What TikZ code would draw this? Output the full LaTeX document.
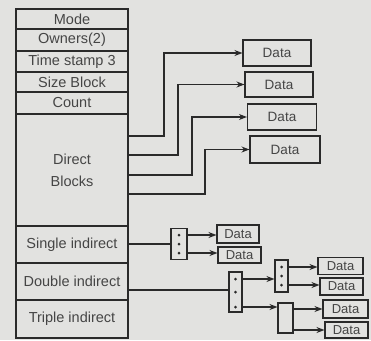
\documentclass[tikz,border=0pt]{standalone}
\usepackage{fontspec}
\setmainfont{Liberation Sans}
\usetikzlibrary{arrows.meta}
\definecolor{ink}{HTML}{2A2A2A}
\definecolor{txt}{HTML}{454545}
\definecolor{paper}{HTML}{E2E2E0}
\begin{document}
\begin{tikzpicture}[x=1pt,y=-1pt,
  cell/.style={draw=ink, line width=1.1pt, minimum width=112pt, inner sep=0pt, text=txt, font=\fontsize{14.5}{17}\selectfont},
  databox/.style={draw=ink, line width=1.1pt, inner sep=0pt, text=txt, font=\fontsize{13.5}{15}\selectfont},
  smallbox/.style={databox, font=\fontsize{13}{15}\selectfont},
  idx/.style={draw=ink, line width=1.1pt, inner sep=0pt},
  dot/.style={circle, fill=ink, inner sep=0pt, minimum size=3pt},
  arr/.style={draw=ink, line width=1.1pt, -{Stealth[length=8pt,width=6pt]}},
  wire/.style={draw=ink, line width=1.1pt}]
\useasboundingbox[fill=paper] (0,0) rectangle (371,340);
% inode column
\node[cell, minimum height=20pt] (mode) at (72,19) {Mode};
\node[cell, minimum height=22pt] (owners) at (72,40) {Owners(2)};
\node[cell, minimum height=21pt] (time) at (72,61.5) {Time stamp 3};
\node[cell, minimum height=20pt] (size) at (72,82) {Size Block};
\node[cell, minimum height=22pt] (count) at (72,103) {Count};
\node[cell, minimum height=112pt, align=center] (direct) at (72,170) {Direct\\[5pt]Blocks};
\node[cell, minimum height=37pt] (single) at (72,244.5) {Single indirect};
\node[cell, minimum height=37pt] (double) at (72,281.5) {Double indirect};
\node[cell, minimum height=38pt] (triple) at (72,319) {Triple indirect};
% direct data blocks
\node[databox, minimum width=68pt, minimum height=26pt] (d1) at (277,53) {Data};
\node[databox, minimum width=68pt, minimum height=25pt] (d2) at (279,84.5) {Data};
\node[databox, minimum width=69pt, minimum height=26pt] (d3) at (282,117) {Data};
\node[databox, minimum width=70pt, minimum height=27pt] (d4) at (285,149.5) {Data};
\draw[arr] (direct.east |- 0,136) -- (164,136) |- (d1.west);
\draw[arr] (direct.east |- 0,155) -- (178,155) |- (d2.west);
\draw[arr] (direct.east |- 0,175) -- (192,175) |- (d3.west);
\draw[arr] (direct.east |- 0,194) -- (205,194) |- (d4.west);
% single indirect
\node[idx, minimum width=16pt, minimum height=31pt] (ib1) at (179,244) {};
\node[dot] (a1) at (179,235) {};
\node[dot] (a2) at (179,244) {};
\node[dot] (a3) at (179,253) {};
\node[smallbox, minimum width=42pt, minimum height=18pt] (e1) at (238,234) {Data};
\node[smallbox, minimum width=43pt, minimum height=16pt] (e2) at (239.5,255) {Data};
\draw[wire] (single.east |- ib1.west) -- (ib1.west);
\draw[arr] (ib1.east |- a1) -- (e1.west |- a1);
\draw[arr] (ib1.east |- a3) -- (e2.west |- a3);
% double indirect
\node[idx, minimum width=13pt, minimum height=40pt] (ib2) at (235.5,292) {};
\node[dot] (b1) at (235.5,279) {};
\node[dot] (b2) at (235.5,292) {};
\node[dot] (b3) at (235.5,307) {};
\node[idx, minimum width=13pt, minimum height=32pt] (ib3) at (281.5,276) {};
\node[dot] (c1) at (281.5,267) {};
\node[dot] (c2) at (281.5,276) {};
\node[dot] (c3) at (281.5,285) {};
\node[idx, minimum width=15pt, minimum height=30pt] (ib4) at (285.5,318) {};
\node[smallbox, minimum width=45pt, minimum height=17pt] (f1) at (340.5,266) {Data};
\node[smallbox, minimum width=43pt, minimum height=17pt] (f2) at (341.5,286.5) {Data};
\node[smallbox, minimum width=45pt, minimum height=18pt] (f3) at (345.5,309) {Data};
\node[smallbox, minimum width=43pt, minimum height=16pt] (f4) at (346.5,330) {Data};
\draw[wire] (double.east |- 0,290) -- (ib2.west |- 0,290);
\draw[arr] (ib2.east |- b1) -- (ib3.west |- b1);
\draw[arr] (ib2.east |- b3) -- (ib4.west |- b3);
\draw[arr] (ib3.east |- c1) -- (f1.west |- c1);
\draw[arr] (ib3.east |- c3) -- (f2.west |- c3);
\draw[arr] (ib4.east |- f3.west) -- (f3.west);
\draw[arr] (ib4.east |- f4.west) -- (f4.west);
\end{tikzpicture}
\end{document}
